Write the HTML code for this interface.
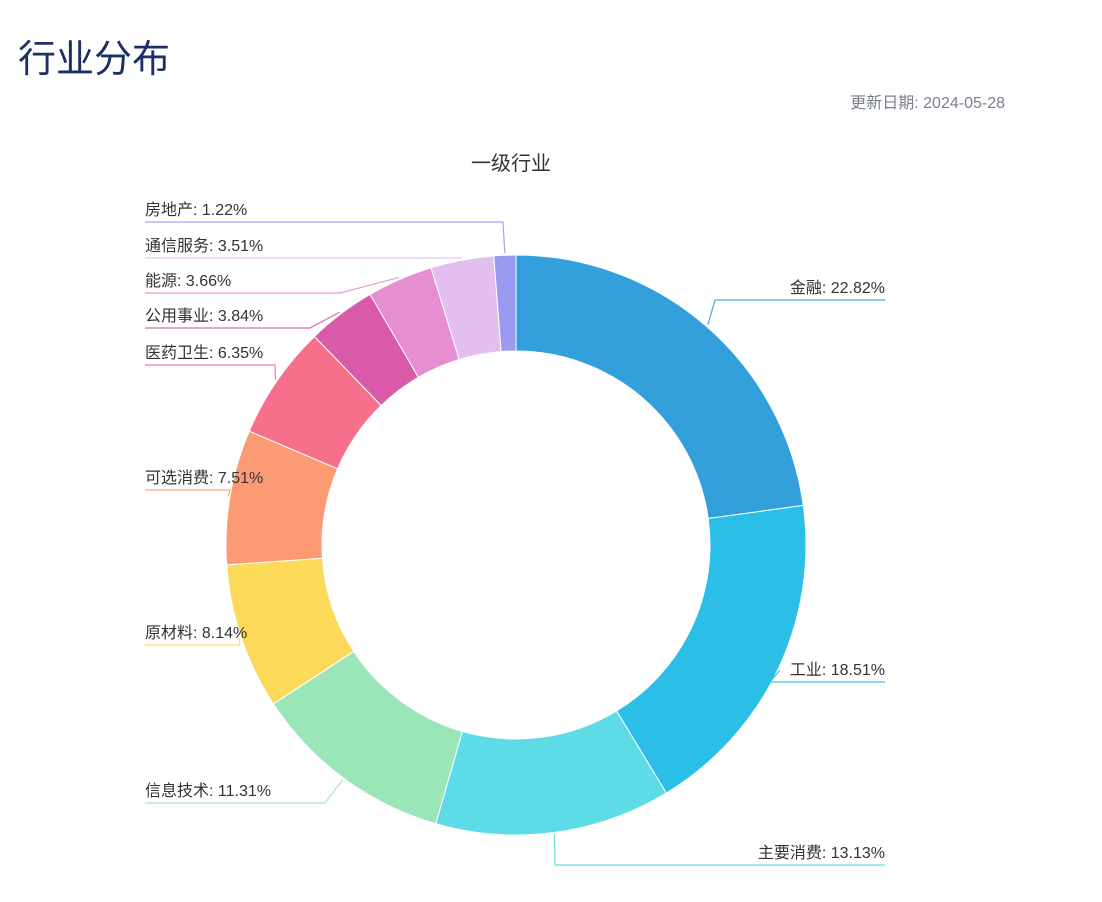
<!DOCTYPE html>
<html><head><meta charset="utf-8"><style>
body{margin:0;background:#fff;width:1102px;height:902px;overflow:hidden;font-family:"Liberation Sans","Noto Sans CJK SC",sans-serif}
svg{position:absolute;left:0;top:0}
</style></head><body>
<svg width="1102" height="902">
<text x="18" y="72" font-size="38" fill="#1c2f66" font-family="Liberation Sans, Noto Sans CJK SC, sans-serif">行业分布</text>
<text x="1005" y="108" font-size="16" fill="#7a7f8c" text-anchor="end" font-family="Liberation Sans, Noto Sans CJK SC, sans-serif">更新日期: 2024-05-28</text>
<text x="511" y="170" font-size="20" fill="#333" text-anchor="middle" font-family="Liberation Sans, Noto Sans CJK SC, sans-serif">一级行业</text>
<g id="pie"></g>
</svg>
<script>
const categories=["金融","工业","主要消费","信息技术","原材料","可选消费","医药卫生","公用事业","能源","通信服务","房地产"];
const values=[22.82,18.51,13.13,11.31,8.14,7.51,6.35,3.84,3.66,3.51,1.22];
const colors=["#33a0dc","#2bbfe8","#5ddbe6","#9be6b8","#fdd95a","#fc9a74","#f6708b","#d95aa8","#e58fd0","#e3bff0","#9a9af0"];
// label layout: [side, underlineY, elbowX]
const layout=[["r",300,715],["r",682,770],["r",865,555],["l",803,325],["l",645,240],["l",490,230],["l",365,275],["l",328,310],["l",293,340],["l",258,460],["l",222,503]];
const cx=516,cy=545,R=290,r0=194;
const g=document.getElementById('pie');
const NS='http://www.w3.org/2000/svg';
const total=values.reduce((a,b)=>a+b,0);
function pt(a,rad){return [cx+rad*Math.sin(a),cy-rad*Math.cos(a)];}
let acc=0;
values.forEach((v,i)=>{
  const a0=acc/total*2*Math.PI; acc+=v; const a1=acc/total*2*Math.PI;
  const large=(a1-a0)>Math.PI?1:0;
  const p0=pt(a0,R),p1=pt(a1,R),q1=pt(a1,r0),q0=pt(a0,r0);
  const path=document.createElementNS(NS,'path');
  path.setAttribute('d',`M${p0[0]},${p0[1]}A${R},${R} 0 ${large} 1 ${p1[0]},${p1[1]}L${q1[0]},${q1[1]}A${r0},${r0} 0 ${large} 0 ${q0[0]},${q0[1]}Z`);
  path.setAttribute('fill',colors[i]);path.setAttribute('stroke','#fff');path.setAttribute('stroke-width','1');
  
  
  g.appendChild(path);
  const am=(a0+a1)/2; const m=pt(am,R+2);
  const [side,uy,ex]=layout[i];
  const x2=side==='r'?885:145;
  const ln=document.createElementNS(NS,'polyline');
  ln.setAttribute('points',`${m[0]},${m[1]} ${ex},${uy} ${x2},${uy}`);
  ln.setAttribute('fill','none');ln.setAttribute('stroke',colors[i]);ln.setAttribute('stroke-width','1.2');
  ln.setAttribute('opacity','0.9');
  
  
  g.appendChild(ln);
  const t=document.createElementNS(NS,'text');
  t.textContent=categories[i]+': '+v.toFixed(2)+'%';
  t.setAttribute('x',side==='r'?885:145);t.setAttribute('y',uy-7);
  t.setAttribute('text-anchor',side==='r'?'end':'start');
  t.setAttribute('font-size','16');t.setAttribute('fill','#333');
  t.setAttribute('font-family','Liberation Sans, Noto Sans CJK SC, sans-serif');
  
  
  g.appendChild(t);
});
</script>
</body></html>
